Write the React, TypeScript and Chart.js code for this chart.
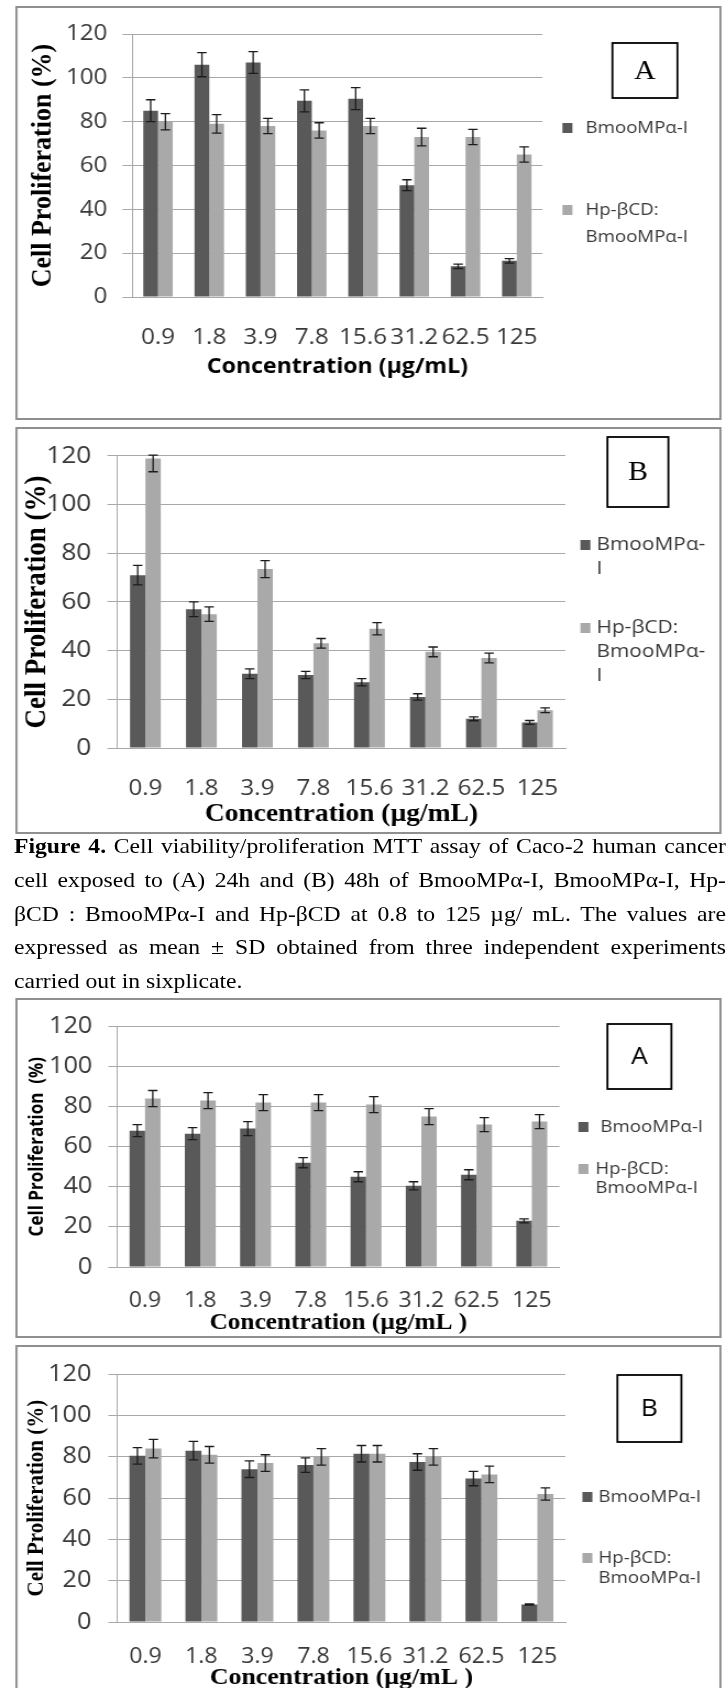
import React, { useEffect, useRef } from 'react';
import { Chart, registerables } from 'chart.js';

Chart.register(...registerables);

// ---------- data ----------
const categories = ['0.9', '1.8', '3.9', '7.8', '15.6', '31.2', '62.5', '125'];
const yMin = 0;
const yMax = 120;
const yStep = 20;

const seriesDarkName = 'BmooMPα-I';
const seriesLightName = 'Hp-βCD: BmooMPα-I';

// Panel 1 (24h, A)
const p1Dark = [85, 106, 107, 89.5, 90.5, 51, 14, 16.5];
const p1DarkErr = [5, 5.5, 5, 5, 5, 2.5, 1, 1];
const p1Light = [80, 79, 78, 76, 78, 73, 73, 65];
const p1LightErr = [3.7, 4.2, 3.5, 3.5, 3.5, 4, 3.5, 3.5];

// Panel 2 (48h, B)
const p2Dark = [71, 57, 30.5, 30, 27, 21, 12, 10.5];
const p2DarkErr = [4, 3, 2, 1.5, 1.5, 1.3, 0.8, 0.8];
const p2Light = [119, 55, 73.5, 43, 49, 39.5, 37, 15.5];
const p2LightErr = [5.5, 3, 3.5, 2, 2.5, 2, 2, 1];

// Panel 3 (24h, A)
const p3Dark = [68, 66.5, 69, 52, 45, 40.5, 46, 23];
const p3DarkErr = [3, 3, 3.5, 2.5, 2.5, 2, 2.5, 1];
const p3Light = [84, 83, 82, 82, 81, 75, 71, 72.5];
const p3LightErr = [4, 4, 4, 4, 4, 4, 3.5, 3.5];

// Panel 4 (48h, B)
const p4Dark = [80.5, 83, 74, 76, 81.5, 77.5, 69.5, 8.5];
const p4DarkErr = [4, 4.5, 4, 3.5, 4, 4, 3.5, 0.3];
const p4Light = [84, 81, 77, 80, 81.5, 80, 71.5, 62];
const p4LightErr = [4.5, 4, 4, 4, 4, 4, 4, 3];

// legend text layouts
const legendDarkA = ['BmooMPα-I'];
const legendLightA = ['Hp-βCD:', 'BmooMPα-I'];
const legendDarkB = ['BmooMPα-', 'I'];
const legendLightB = ['Hp-βCD:', 'BmooMPα-', 'I'];

const captionLines = [
  'Cell viability/proliferation MTT assay of Caco-2 human cancer',
  'cell exposed to (A)  24h and  (B) 48h of BmooMPα-I, BmooMPα-I, Hp-',
  'βCD : BmooMPα-I and Hp-βCD at 0.8 to 125 µg/ mL.  The values are',
  'expressed as mean ± SD obtained from three independent experiments',
  'carried out in sixplicate.',
];

// ---------- styles ----------
const S = 1.1; // horizontal stretch of the whole figure
const DARK = '#595959';
const LIGHT = '#a9a9a9';
const GRID = '#a8a8a8';
const TEXT = '#383838';
const SANS = '"Open Sans", "Liberation Sans", sans-serif';
const SERIF = '"Liberation Serif", "Times New Roman", serif';

type Panel = any;

const panels: Panel[] = [
  {
    left: 15, top: 6, right: 721, bottom: 420,
    ca: { l: 132, r: 542, t: 34, b: 297 }, cp: 0.575,
    dark: p1Dark, darkErr: p1DarkErr, light: p1Light, lightErr: p1LightErr,
    yTick: { size: 22, gridStart: 122, labelRight: 107 },
    xTick: { size: 22, cy: 330 },
    yTitle: { text: 'Cell Proliferation (%)', size: 26, family: SERIF, cx: 43 },
    xTitle: { text: 'Concentration (µg/mL)', size: 21, family: SANS, cy: 367 },
    legend: { size: 17, sq: 562, items: [
      { tx: 585, ys: [128], lines: legendDarkA },
      { tx: 585, ys: [210, 237], lines: legendLightA },
    ] },
    box: { l: 612, r: 677, t: 43, b: 98, text: 'A', family: SERIF, size: 27 },
  },
  {
    left: 15, top: 427, right: 721, bottom: 834,
    ca: { l: 117, r: 565, t: 448, b: 748 }, cp: 0.55,
    dark: p2Dark, darkErr: p2DarkErr, light: p2Light, lightErr: p2LightErr,
    yTick: { size: 24, gridStart: 107, labelRight: 91 },
    xTick: { size: 22, cy: 781 },
    yTitle: { text: 'Cell Proliferation (%)', size: 27, family: SERIF, cx: 37 },
    xTitle: { text: 'Concentration (µg/mL)', size: 25, family: SERIF, cy: 815 },
    legend: { size: 19, sq: 580, items: [
      { tx: 596, ys: [545, 569], lines: legendDarkB },
      { tx: 596, ys: [628, 652, 676], lines: legendLightB },
    ] },
    box: { l: 607, r: 668, t: 437, b: 507, text: 'B', family: SERIF, size: 27 },
  },
  {
    left: 15, top: 998, right: 721, bottom: 1338,
    ca: { l: 117, r: 559, t: 1016, b: 1267 }, cp: 0.56,
    dark: p3Dark, darkErr: p3DarkErr, light: p3Light, lightErr: p3LightErr,
    yTick: { size: 23, gridStart: 108, labelRight: 92 },
    xTick: { size: 21, cy: 1293 },
    yTitle: { text: 'Cell Proliferation  (%)', size: 17, family: SANS, cx: 37 },
    xTitle: { text: 'Concentration (µg/mL )', size: 23, family: SERIF, cy: 1323 },
    legend: { size: 17, sq: 578, items: [
      { tx: 600, ys: [1127], lines: legendDarkA },
      { tx: 595, ys: [1169, 1188], lines: legendLightA },
    ] },
    box: { l: 607, r: 671, t: 1024, b: 1089, text: 'A', family: SANS, size: 24 },
  },
  {
    left: 15, top: 1345, right: 721, bottom: 1700,
    ca: { l: 117, r: 565, t: 1363, b: 1622 }, cp: 0.57,
    dark: p4Dark, darkErr: p4DarkErr, light: p4Light, lightErr: p4LightErr,
    yTick: { size: 23, gridStart: 108, labelRight: 91 },
    xTick: { size: 21, cy: 1649 },
    yTitle: { text: 'Cell Proliferation (%)', size: 21, family: SERIF, cx: 37 },
    xTitle: { text: 'Concentration (µg/mL )', size: 23.5, family: SERIF, cy: 1678 },
    legend: { size: 17, sq: 582, items: [
      { tx: 598, ys: [1497], lines: legendDarkA },
      { tx: 598, ys: [1558, 1578], lines: legendLightA },
    ] },
    box: { l: 617, r: 681, t: 1375, b: 1442, text: 'B', family: SANS, size: 24 },
  },
];

function makeConfig(p: Panel): any {
  const W = Math.round((p.right - p.left) / S);
  const H = p.bottom - p.top;
  const px = (X: number) => (X - p.left) / S;
  const py = (Y: number) => Y - p.top;

  const cl = px(p.ca.l);
  const cr = px(p.ca.r);
  const ct = py(p.ca.t);
  const cb = py(p.ca.b);
  const tickLen = (p.ca.l - p.yTick.gridStart) / S;
  const yTickPad = (p.yTick.gridStart - p.yTick.labelRight) / S;
  const xTickPad = (p.xTick.cy - p.ca.b) - (p.xTick.size * 1.2) / 2;
  const xTitleLH = p.xTitle.size * 1.2;
  const xAxisH = (p.xTitle.cy - p.ca.b) + xTitleLH / 2;
  const yTitleLH = p.yTitle.size * 1.2;
  const yTitlePad = px(p.yTitle.cx) - yTitleLH / 2;

  const errorBars = {
    id: 'errorBars',
    afterDatasetsDraw(chart: any) {
      const { ctx, scales } = chart;
      const y = scales.y;
      ctx.save();
      ctx.strokeStyle = '#1c1c1c';
      ctx.lineWidth = 1.3;
      chart.data.datasets.forEach((ds: any, di: number) => {
        const meta = chart.getDatasetMeta(di);
        meta.data.forEach((bar: any, i: number) => {
          const v = ds.data[i];
          const e = ds.errors[i];
          const hi = Math.min(v + e, yMax + 0.3);
          const lo = Math.max(v - e, yMin);
          const yt = y.getPixelForValue(hi);
          const yb = y.getPixelForValue(lo);
          const x = bar.x;
          const cap = 4.3;
          ctx.beginPath();
          ctx.moveTo(x, yt);
          ctx.lineTo(x, yb);
          ctx.moveTo(x - cap, yt);
          ctx.lineTo(x + cap, yt);
          ctx.moveTo(x - cap, yb);
          ctx.lineTo(x + cap, yb);
          ctx.stroke();
        });
      });
      ctx.restore();
    },
  };

  const decorations = {
    id: 'decorations',
    afterDraw(chart: any) {
      const { ctx } = chart;
      ctx.save();
      // legend
      const sqW = 10 / S;
      const colors = chart.data.datasets.map((d: any) => d.backgroundColor);
      ctx.font = `${p.legend.size}px ${SANS}`;
      ctx.textBaseline = 'middle';
      ctx.textAlign = 'left';
      p.legend.items.forEach((it: any, k: number) => {
        ctx.fillStyle = colors[k];
        ctx.fillRect(px(p.legend.sq), py(it.ys[0]) - 5, sqW, 10);
        ctx.fillStyle = TEXT;
        it.lines.forEach((ln: string, j: number) => {
          ctx.fillText(ln, px(it.tx), py(it.ys[j]));
        });
      });
      // label box
      const b = p.box;
      ctx.fillStyle = '#ffffff';
      ctx.fillRect(px(b.l), py(b.t), px(b.r) - px(b.l), b.b - b.t);
      ctx.strokeStyle = '#000000';
      ctx.lineWidth = 1.8;
      ctx.strokeRect(px(b.l), py(b.t), px(b.r) - px(b.l), b.b - b.t);
      ctx.fillStyle = '#000000';
      ctx.font = `${b.size}px ${b.family}`;
      ctx.textAlign = 'center';
      ctx.textBaseline = 'middle';
      ctx.fillText(b.text, (px(b.l) + px(b.r)) / 2, py((b.t + b.b) / 2) + 1);
      ctx.restore();
    },
  };

  return {
    type: 'bar',
    data: {
      labels: categories,
      datasets: [
        {
          label: seriesDarkName,
          data: p.dark,
          errors: p.darkErr,
          backgroundColor: DARK,
          categoryPercentage: p.cp,
          barPercentage: 1,
        },
        {
          label: seriesLightName,
          data: p.light,
          errors: p.lightErr,
          backgroundColor: LIGHT,
          categoryPercentage: p.cp,
          barPercentage: 1,
        },
      ],
    },
    options: {
      animation: false,
      responsive: false,
      maintainAspectRatio: false,
      devicePixelRatio: 1,
      layout: {
        padding: { left: 0, top: ct, right: W - cr, bottom: H - cb - xAxisH },
      },
      plugins: {
        legend: { display: false },
        tooltip: { enabled: false },
        title: { display: false },
      },
      scales: {
        x: {
          grid: { display: false },
          border: { display: true, color: GRID, width: 1 },
          ticks: {
            autoSkip: false,
            maxRotation: 0,
            minRotation: 0,
            padding: xTickPad,
            color: TEXT,
            font: { family: SANS, size: p.xTick.size },
          },
          title: {
            display: true,
            text: p.xTitle.text,
            color: '#000000',
            padding: 0,
            font: { family: p.xTitle.family, size: p.xTitle.size, weight: 'bold' },
          },
          afterFit: (s: any) => {
            s.height = xAxisH;
          },
        },
        y: {
          min: yMin,
          max: yMax,
          grid: { color: GRID, lineWidth: 1, tickLength: tickLen, drawTicks: true },
          border: { display: true, color: GRID, width: 1 },
          ticks: {
            stepSize: yStep,
            padding: yTickPad,
            color: TEXT,
            font: { family: SANS, size: p.yTick.size },
          },
          title: {
            display: true,
            text: p.yTitle.text,
            color: '#000000',
            padding: { top: yTitlePad, bottom: 0 },
            font: { family: p.yTitle.family, size: p.yTitle.size, weight: 'bold' },
          },
          afterFit: (s: any) => {
            s.width = cl;
          },
        },
      },
    },
    plugins: [errorBars, decorations],
  };
}

function PanelChart({ p }: { p: Panel }) {
  const ref = useRef<HTMLCanvasElement | null>(null);
  const W = Math.round((p.right - p.left) / S);
  const H = p.bottom - p.top;
  useEffect(() => {
    if (!ref.current) return;
    const chart = new Chart(ref.current, makeConfig(p));
    return () => chart.destroy();
  }, [p]);
  return (
    <div
      style={{
        position: 'absolute',
        left: p.left / S,
        top: p.top,
        width: W,
        height: H,
        background: '#ffffff',
      }}
    >
      <canvas ref={ref} width={W} height={H} style={{ display: 'block', width: W, height: H }} />
      <div
        style={{
          position: 'absolute',
          left: 0,
          top: 0,
          width: W,
          height: H,
          border: '2px solid #8f8f8f',
          boxSizing: 'border-box',
          pointerEvents: 'none',
        }}
      />
    </div>
  );
}

function Caption() {
  const lineH = 33.75;
  const top = 847 - lineH / 2;
  const left = 14 / S;
  const width = (726 - 14) / S;
  return (
    <div
      style={{
        position: 'absolute',
        left,
        top,
        width,
        fontFamily: SERIF,
        fontSize: 21.5,
        lineHeight: `${lineH}px`,
        color: '#000000',
      }}
    >
      {captionLines.map((ln, i) => (
        <div
          key={i}
          style={{
            textAlign: i < 4 ? 'justify' : 'left',
            textAlignLast: i < 4 ? 'justify' : 'left',
            height: lineH,
            overflow: 'visible',
          }}
        >
          {i === 0 ? (
            <>
              <b>Figure 4.</b> {ln}
            </>
          ) : (
            ln
          )}
        </div>
      ))}
    </div>
  );
}

export default function App() {
  return (
    <div
      style={{
        position: 'absolute',
        left: 0,
        top: 0,
        width: 727 / S,
        height: 1688,
        overflow: 'hidden',
        background: '#ffffff',
        transform: `scaleX(${S})`,
        transformOrigin: '0 0',
      }}
    >
      {panels.map((p, i) => (
        <PanelChart key={i} p={p} />
      ))}
      <Caption />
    </div>
  );
}
